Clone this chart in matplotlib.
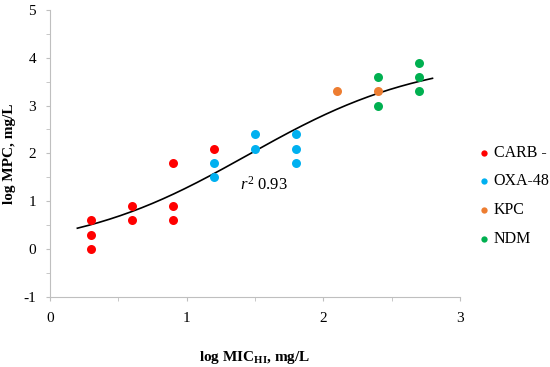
import numpy as np
import matplotlib
matplotlib.use("Agg")
import matplotlib.pyplot as plt

# log MIC_HI (x) and log MPC (y) per resistance group
carb_x = [0.3, 0.3, 0.3, 0.6, 0.6, 0.9, 0.9, 0.9, 1.2]
carb_y = [0.0, 0.3, 0.6, 0.6, 0.9, 0.6, 0.9, 1.8, 2.1]
oxa_x = [1.2, 1.2, 1.5, 1.5, 1.8, 1.8, 1.8]
oxa_y = [1.5, 1.8, 2.1, 2.4, 1.8, 2.1, 2.4]
kpc_x = [2.1, 2.4]
kpc_y = [3.3, 3.3]
ndm_x = [2.4, 2.4, 2.7, 2.7, 2.7]
ndm_y = [3.0, 3.6, 3.3, 3.6, 3.9]

groups = ["CARB -", "OXA-48", "KPC", "NDM"]
colors = ["#FF0000", "#00B0F0", "#ED7D31", "#00B050"]

# sigmoid trend line as drawn in the figure (bottom, span, slope, midpoint)
trend_bottom = -0.08
trend_span = 4.1
trend_slope = 1.55
trend_mid = 1.45
trend_range = [0.2, 2.8]

plt.rcParams["font.family"] = ["Liberation Serif", "DejaVu Serif"]
plt.rcParams["mathtext.fontset"] = "custom"
plt.rcParams["mathtext.rm"] = "Liberation Serif"
plt.rcParams["mathtext.it"] = "Liberation Serif:italic"
plt.rcParams["mathtext.bf"] = "Liberation Serif:bold"
plt.rcParams["axes.unicode_minus"] = False

fig = plt.figure(figsize=(5.5, 3.67), dpi=100)
ax = fig.add_axes([0.091, 0.191, 0.745, 0.782])

series = [(carb_x, carb_y), (oxa_x, oxa_y), (kpc_x, kpc_y), (ndm_x, ndm_y)]
for (xs, ys), name, c in zip(series, groups, colors):
    ax.scatter(xs, ys, s=42, color=c, label=name, zorder=3, linewidths=0)

xx = np.linspace(trend_range[0], trend_range[1], 200)
yy = trend_bottom + trend_span / (1 + np.exp(-trend_slope * (xx - trend_mid)))
ax.plot(xx, yy, color="black", lw=1.2, zorder=2)

ax.text(1.39, 1.34, r"$\mathit{r}^{\mathrm{2}}$ 0.93", fontsize=12, va="center", ha="left")

ax.set_xlim(0, 3)
ax.set_ylim(-1, 5)
ax.set_xticks([0, 1, 2, 3])
ax.set_xticks([0.5, 1.5, 2.5], minor=True)
ax.set_yticks(range(-1, 6))
ax.set_yticks(np.arange(-0.5, 5, 1), minor=True)
ax.tick_params(which="both", color="#BFBFBF", length=3, labelsize=11)
ax.tick_params(axis="y", pad=7)
ax.tick_params(axis="x", pad=8)
for s in ["top", "right"]:
    ax.spines[s].set_visible(False)
for s in ["left", "bottom"]:
    ax.spines[s].set_color("#BFBFBF")

ax.set_xlabel(r"log MIC$_{\mathbf{HI}}$, mg/L", fontsize=11, fontweight="bold", labelpad=17)
ax.set_ylabel("log MPC, mg/L", fontsize=11, fontweight="bold", labelpad=5)

ax.legend(loc="center left", bbox_to_anchor=(1.005, 0.352), frameon=False,
          fontsize=11.5, handlelength=1.0, handletextpad=0.1, labelspacing=0.8,
          markerscale=0.7)

fig.savefig("out.png", dpi=100)
